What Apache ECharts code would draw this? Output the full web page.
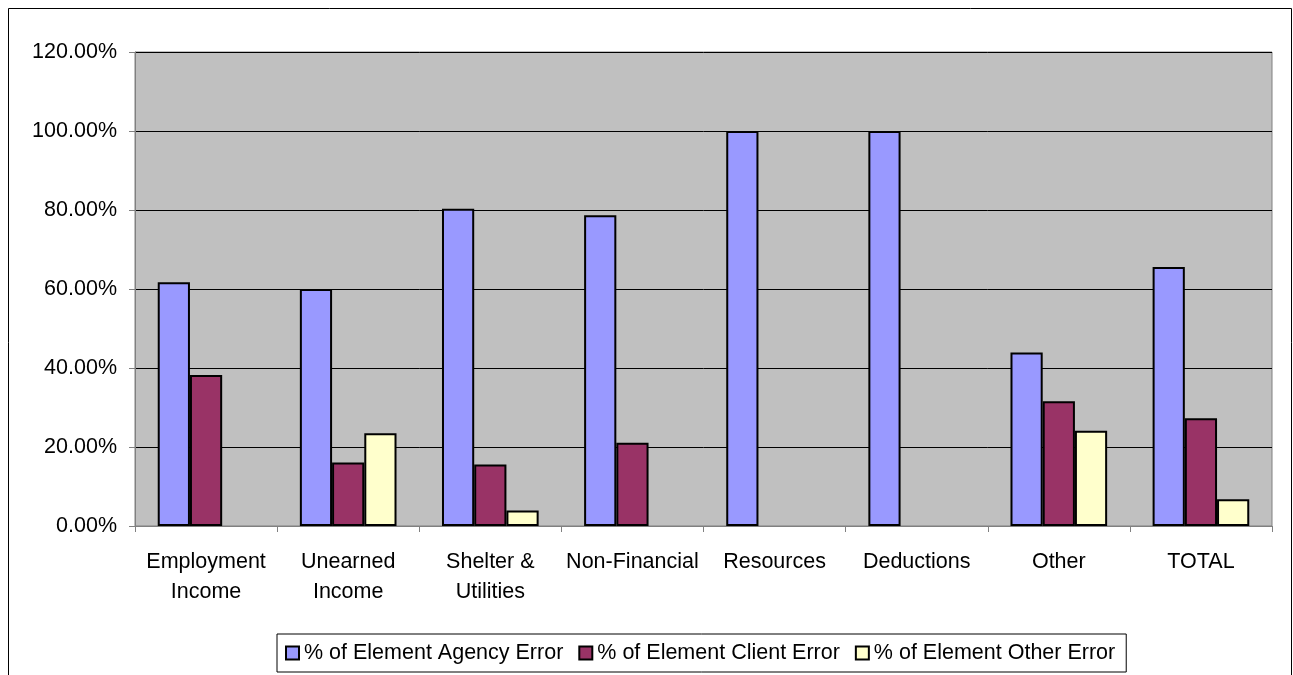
<!DOCTYPE html>
<html>
<head>
<meta charset="utf-8">
<script src="https://cdn.jsdelivr.net/npm/echarts@6/dist/echarts.min.js"></script>
<style>
html,body{margin:0;padding:0;background:#fff;}
#chart{width:1293px;height:675px;}
</style>
</head>
<body>
<div id="chart"></div>
<script>
const categories = ['Employment\nIncome', 'Unearned\nIncome', 'Shelter &\nUtilities', 'Non-Financial', 'Resources', 'Deductions', 'Other', 'TOTAL'];
// null = no bar drawn (blank in the source)
const agencyError = [61.7, 60.0, 80.3, 78.7, 100, 100, 43.9, 65.6];
const clientError = [38.2, 16.1, 15.6, 21.1, null, null, 31.6, 27.3];
const otherError = [null, 23.5, 3.9, null, null, null, 24.1, 6.8];
const yTicks = [0, 20, 40, 60, 80, 100, 120];
const seriesNames = ['% of Element Agency Error', '% of Element Client Error', '% of Element Other Error'];
const colors = ['#9999FF', '#993366', '#FFFFCC'];

const chart = echarts.init(document.getElementById('chart'));
const font = '"Liberation Sans", Arial, sans-serif';
const mk = (name, data, color) => ({
  name: name,
  type: 'bar',
  data: data,
  barGap: '0%',
  barCategoryGap: '32%',
  itemStyle: { color: color, borderColor: '#000', borderWidth: 2 },
  emphasis: { disabled: true }
});
chart.setOption({
  animation: false,
  textStyle: { fontFamily: font },
  graphic: [{
    type: 'rect',
    shape: { x: 8.5, y: 8.5, width: 1283, height: 700 },
    style: { fill: 'none', stroke: '#000', lineWidth: 1 },
    silent: true
  }],
  grid: {
    left: 135, top: 52, right: 21, bottom: 149,
    show: true, backgroundColor: '#C0C0C0', borderColor: '#808080', borderWidth: 1
  },
  legend: {
    left: 277, top: 634,
    padding: [7, 11, 7, 8],
    itemGap: 15,
    itemWidth: 13, itemHeight: 13,
    icon: 'rect',
    borderColor: '#000', borderWidth: 1, backgroundColor: '#fff',
    textStyle: { fontFamily: font, fontSize: 21.5, color: '#000', lineHeight: 24 },
    data: seriesNames
  },
  xAxis: {
    type: 'category',
    data: categories,
    axisLine: { lineStyle: { color: '#808080', width: 1 } },
    axisTick: { show: true, length: 6, lineStyle: { color: '#808080' } },
    axisLabel: { fontFamily: font, fontSize: 21.5, color: '#000', margin: 21, lineHeight: 30, interval: 0 }
  },
  yAxis: {
    type: 'value',
    min: yTicks[0], max: yTicks[yTicks.length - 1], interval: yTicks[1] - yTicks[0],
    axisLine: { show: true, lineStyle: { color: '#808080', width: 1 } },
    axisTick: { show: true, length: 6, lineStyle: { color: '#808080' } },
    splitLine: { lineStyle: { color: '#000', width: 1 } },
    axisLabel: { fontFamily: font, fontSize: 21.5, color: '#000', margin: 18, formatter: v => v.toFixed(2) + '%' }
  },
  series: [
    mk(seriesNames[0], agencyError, colors[0]),
    mk(seriesNames[1], clientError, colors[1]),
    mk(seriesNames[2], otherError, colors[2])
  ]
});
</script>
</body>
</html>
